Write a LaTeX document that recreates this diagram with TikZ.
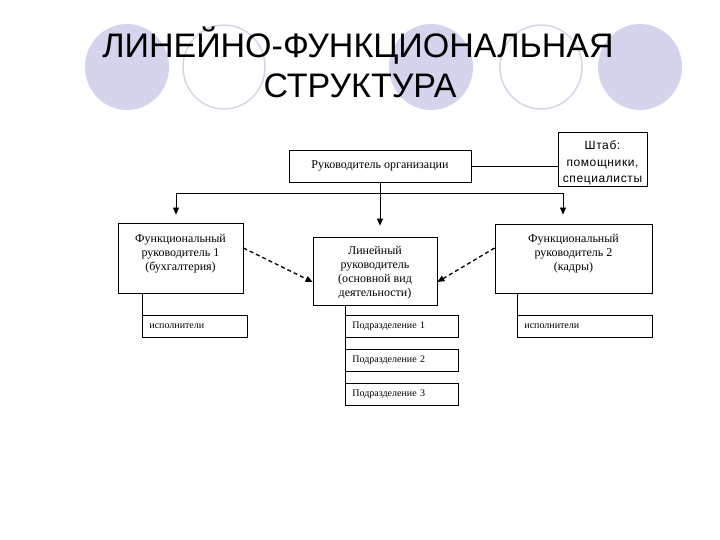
\documentclass[tikz,border=0pt]{standalone}
\usepackage{fontspec}
\setmainfont{Liberation Serif}
\newfontfamily\headfont{Liberation Sans}
\newfontfamily\stafffont[LetterSpace=5]{Liberation Sans}
\usetikzlibrary{arrows.meta}
\usetikzlibrary{positioning}
\definecolor{disc}{RGB}{212,212,236}
\definecolor{ring}{RGB}{214,214,232}
\tikzset{
	title/.style={
		anchor=base,
		inner sep=0,
		font=\headfont\fontsize{34}{40}\selectfont,
	},
	box/.style={
		draw,
		line width=.8pt,
		inner sep=0,
		align=center,
		font=\fontsize{12}{14}\selectfont,
	},
	subbox/.style={
		draw,
		line width=.8pt,
		anchor=west,
		inner xsep=7pt,
		inner ysep=0,
		minimum height=22pt,
		text width=#1,
		align=left,
		font=\fontsize{10}{12}\selectfont,
	},
	boxtext/.style={
		anchor=north,
		inner sep=0,
		align=center,
		font=\fontsize{12}{14}\selectfont,
	},
	link/.style={
		line width=.8pt,
	},
	down/.style={
		line width=.8pt,
		-{Triangle[length=7pt,width=6pt]},
	},
	advise/.style={
		line width=1.3pt,
		dash pattern=on 4pt off 3pt,
		-{Triangle[length=7pt,width=6pt]},
	},
}

\begin{document}
\begin{tikzpicture}[x=1pt,y=-1pt]
	\useasboundingbox (0,0) rectangle (720,540);

	% circles behind the heading
	\foreach \cx/\filled in {127/1,224/0,431/1,541/0,640/1}{
		\ifnum\filled=1
			\fill[disc] (\cx,67) ellipse [x radius=42pt, y radius=43pt];
		\else
			\draw[ring, line width=1.5pt, fill=white] (\cx,67) ellipse [x radius=41pt, y radius=42pt];
		\fi
	}

	\node[title] (title1) at (358,58) {ЛИНЕЙНО-ФУНКЦИОНАЛЬНАЯ};
	\node[title] (title2) at (360,98) {СТРУКТУРА};

	% top level
	\node[box, minimum width=182pt, minimum height=32pt] (lead) at (380,166) {Руководитель организации};
	\node[box, minimum width=89pt, minimum height=54pt] (staff) at (602.5,159) {};
	\node[boxtext, below=9pt of staff.north, font=\stafffont\fontsize{12}{16.5}\selectfont] (stafft) {Штаб:\\помощники,\\специалисты};

	% second level
	\node[box, minimum width=125pt, minimum height=70pt] (func1) at (180.5,258) {};
	\node[boxtext, below=11pt of func1.north] (func1t) {Функциональный\\руководитель 1\\(бухгалтерия)};
	\node[box, minimum width=124pt, minimum height=68pt] (line) at (375,271) {};
	\node[boxtext, below=9pt of line.north] (linet) {Линейный\\руководитель\\(основной вид\\деятельности)};
	\node[box, minimum width=157pt, minimum height=69pt] (func2) at (573.5,258.5) {};
	\node[boxtext, below=10pt of func2.north] (func2t) {Функциональный\\руководитель 2\\(кадры)};

	% third level
	\node[subbox=91pt] (exec1) at (142,326) {исполнители};
	\node[subbox=121pt] (exec2) at (517,326) {исполнители};
	\node[subbox=99pt] (dept1) at (345,326) {Подразделение 1};
	\node[subbox=99pt] (dept2) at (345,360) {Подразделение 2};
	\node[subbox=99pt] (dept3) at (345,394) {Подразделение 3};

	% connectors
	\coordinate (busL) at (176,193);
	\coordinate (busC) at (380,193);
	\coordinate (busR) at (563,193);
	\draw[link] (lead.east) -- (lead.east -| staff.west);
	\draw[link] (lead.south) -- (busC);
	\draw[link] (busL) -- (busR);
	\draw[down, shorten >=8pt] (busL) -- (busL |- func1.north);
	\draw[down, shorten >=11pt] (busC) -- (busC |- line.north);
	\draw[down, shorten >=9pt] (busR) -- (busR |- func2.north);

	\draw[advise] ([yshift=10pt]func1.east) -- ([yshift=-11pt]line.west);
	\draw[advise] ([yshift=10.5pt]func2.west) -- ([yshift=-11pt]line.east);

	\draw[link] (func1.south -| exec1.west) -- (exec1.north west);
	\draw[link] (func2.south -| exec2.west) -- (exec2.north west);
	\draw[link] (line.south -| dept1.west) -- (dept3.south west);

\end{tikzpicture}
\end{document}
